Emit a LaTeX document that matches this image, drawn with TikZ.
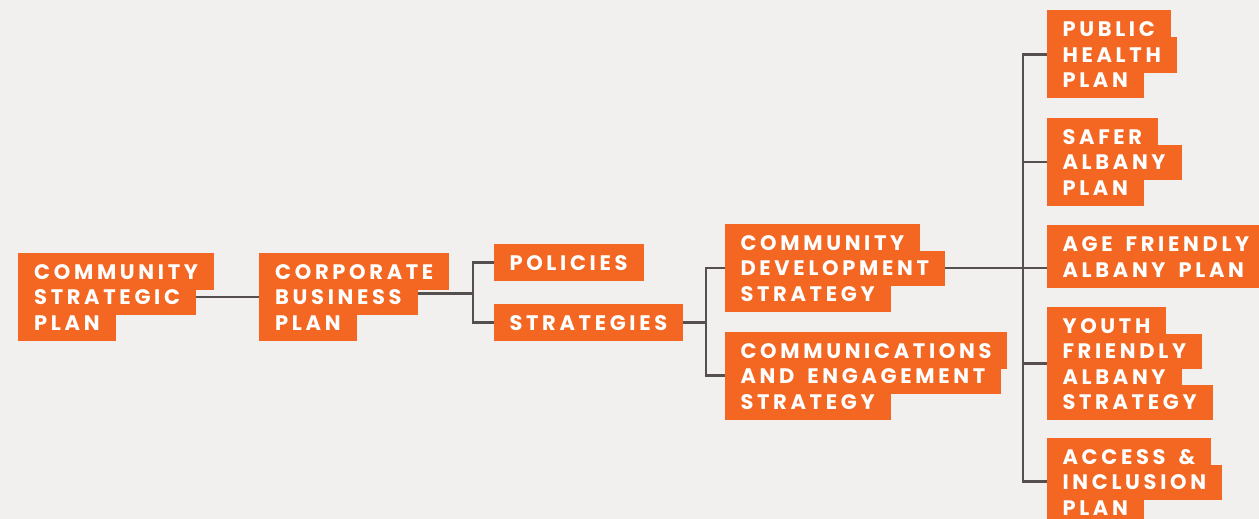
\documentclass[tikz,border=0pt]{standalone}
\usepackage{fontspec}
\newfontfamily\boxfont{Poppins}[LetterSpace=17.5,WordSpace=1.6]
\usetikzlibrary{fit,backgrounds}
\definecolor{org}{HTML}{F36723}
\definecolor{pagebg}{HTML}{F1F0EE}
\definecolor{lnc}{HTML}{55504D}
\tikzset{
  ln/.style={anchor=base west, fill=org, text=white,
    font=\boxfont\bfseries\fontsize{21}{21}\selectfont,
    inner xsep=0pt, inner ysep=0pt, text height=25pt, text depth=10.5pt,
    execute at begin node=\hspace*{16pt},
    execute at end node=\hspace*{16pt}},
  lnfirst/.style={ln, text height=26.5pt},
  blk/.style={inner sep=0pt},
  conn/.style={draw=lnc, line width=2.3pt}
}
\begin{document}
\begin{tikzpicture}[x=1pt,y=-1pt]
\useasboundingbox (0,0) rectangle (1259,519);
% Community Strategic Plan
\node[lnfirst] (a1) at (18,279.3) {COMMUNITY};
\node[ln] (a2) at (18,304.8) {STRATEGIC};
\node[ln] (a3) at (18,330.3) {PLAN};
\node[blk, fit=(a1)(a2)(a3)] (A) {};
% Corporate Business Plan
\node[lnfirst] (b1) at (259,279.3) {CORPORATE};
\node[ln] (b2) at (259,304.8) {BUSINESS};
\node[ln] (b3) at (259,330.3) {PLAN};
\node[blk, fit=(b1)(b2)(b3)] (B) {};
% Policies / Strategies
\node[lnfirst] (P) at (493.3,270.5) {POLICIES};
\node[lnfirst] (S) at (493.3,330.5) {STRATEGIES};
% Community Development Strategy
\node[lnfirst] (c1) at (724.3,250.3) {COMMUNITY};
\node[ln] (c2) at (724.3,275.8) {DEVELOPMENT};
\node[ln] (c3) at (724.3,301.3) {STRATEGY};
\node[blk, fit=(c1)(c2)(c3)] (CDS) {};
% Communications and Engagement Strategy
\node[lnfirst] (d1) at (724.3,358) {COMMUNICATIONS};
\node[ln] (d2) at (724.3,383.5) {AND ENGAGEMENT};
\node[ln] (d3) at (724.3,409) {STRATEGY};
\node[blk, fit=(d1)(d2)(d3)] (CES) {};
% Public Health Plan
\node[lnfirst] (e1) at (1046.3,37) {PUBLIC};
\node[ln] (e2) at (1046.3,62.5) {HEALTH};
\node[ln] (e3) at (1046.3,88) {PLAN};
\node[blk, fit=(e1)(e2)(e3)] (PHP) {};
% Safer Albany Plan
\node[lnfirst] (f1) at (1046.3,144.3) {SAFER};
\node[ln] (f2) at (1046.3,169.8) {ALBANY};
\node[ln] (f3) at (1046.3,195.3) {PLAN};
\node[blk, fit=(f1)(f2)(f3)] (SAP) {};
% Age Friendly Albany Plan
\node[lnfirst] (g1) at (1046.3,251.5) {AGE FRIENDLY};
\node[ln] (g2) at (1046.3,277) {ALBANY PLAN};
\node[blk, fit=(g1)(g2)] (AFA) {};
% Youth Friendly Albany Strategy
\node[lnfirst] (h1) at (1046.3,333.3) {YOUTH};
\node[ln] (h2) at (1046.3,358.8) {FRIENDLY};
\node[ln] (h3) at (1046.3,384.3) {ALBANY};
\node[ln] (h4) at (1046.3,409.8) {STRATEGY};
\node[blk, fit=(h1)(h2)(h3)(h4)] (YFA) {};
% Access & Inclusion Plan
\node[lnfirst] (i1) at (1046.3,464) {ACCESS \&};
\node[ln] (i2) at (1046.3,489.5) {INCLUSION};
\node[ln] (i3) at (1046.3,515) {PLAN};
\node[blk, fit=(i1)(i2)(i3)] (AIP) {};
% connectors
\begin{scope}[on background layer]
\fill[pagebg] (0,0) rectangle (1259,519);
\coordinate (j1) at (473.3,293.5);
\coordinate (j2) at (706,0);
\coordinate (t) at (1023,0);
\draw[conn] (A.center) -- (B.center);
\draw[conn] (B.center |- j1) -- (j1);
\draw[conn] (P.center) -| (j1) |- (S.center);
\draw[conn] (S.center) -- (j2 |- S.center);
\draw[conn] (CDS.center) -| (j2 |- S.center) |- (CES.center);
\draw[conn] (CDS.center) -- (CDS.center -| AFA.center);
\draw[conn] (PHP.center) -| (t |- AIP.center) -- (AIP.center);
\draw[conn] (t |- SAP.center) -- (SAP.center);
\draw[conn] (t |- YFA.center) -- (YFA.center);
\end{scope}
\end{tikzpicture}
\end{document}
